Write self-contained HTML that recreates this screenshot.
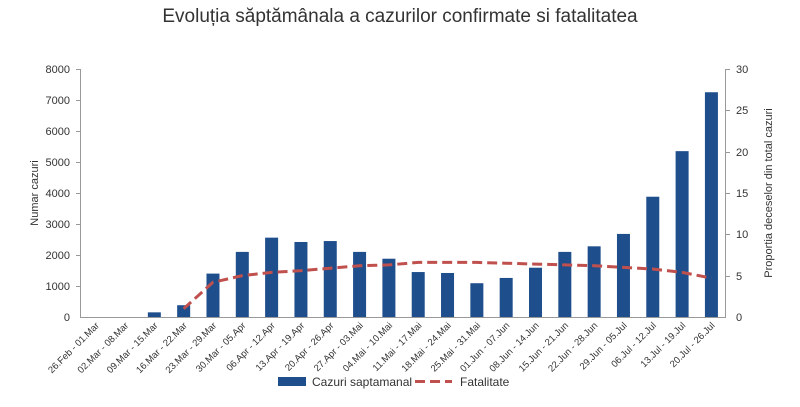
<!DOCTYPE html>
<html><head><meta charset="utf-8"><style>body{margin:0;background:#fff}svg{display:block}text{font-family:"Liberation Sans",sans-serif;fill:#333}</style></head><body>
<svg width="800" height="407" xmlns="http://www.w3.org/2000/svg">
<text x="400" y="22" font-size="19" text-anchor="middle">Evoluția săptămânala a cazurilor confirmate si fatalitatea</text>
<g font-size="11" text-anchor="end">
<text x="70" y="321">0</text><text x="70" y="290">1000</text><text x="70" y="259">2000</text><text x="70" y="228">3000</text><text x="70" y="197">4000</text><text x="70" y="166">5000</text><text x="70" y="135">6000</text><text x="70" y="104">7000</text><text x="70" y="73">8000</text>
</g>
<g font-size="11" text-anchor="start">
<text x="736" y="321">0</text><text x="736" y="280">5</text><text x="736" y="238">10</text><text x="736" y="197">15</text><text x="736" y="156">20</text><text x="736" y="114">25</text><text x="736" y="73">30</text>
</g>
<text transform="translate(38,193) rotate(-90)" font-size="11" text-anchor="middle">Numar cazuri</text>
<text transform="translate(772,193) rotate(-90)" font-size="11" text-anchor="middle">Proportia deceselor din total cazuri</text>
<g stroke="#999" stroke-width="1">
<line x1="80.5" y1="69" x2="80.5" y2="318"/><line x1="725.5" y1="69" x2="725.5" y2="318"/><line x1="80" y1="317.5" x2="726" y2="317.5"/>
<line x1="76" y1="69.5" x2="80" y2="69.5"/><line x1="76" y1="100.5" x2="80" y2="100.5"/><line x1="76" y1="131.5" x2="80" y2="131.5"/><line x1="76" y1="162.5" x2="80" y2="162.5"/><line x1="76" y1="193.5" x2="80" y2="193.5"/><line x1="76" y1="224.5" x2="80" y2="224.5"/><line x1="76" y1="255.5" x2="80" y2="255.5"/><line x1="76" y1="286.5" x2="80" y2="286.5"/>
<line x1="725" y1="69.5" x2="730" y2="69.5"/><line x1="725" y1="110.5" x2="730" y2="110.5"/><line x1="725" y1="152.5" x2="730" y2="152.5"/><line x1="725" y1="193.5" x2="730" y2="193.5"/><line x1="725" y1="234.5" x2="730" y2="234.5"/><line x1="725" y1="276.5" x2="730" y2="276.5"/>
</g>
<g id="bars" fill="#1f4e8c"></g>
<g id="labels" font-size="9.5" text-anchor="end"></g>
<polyline id="fat" fill="none" stroke="#c0504d" stroke-width="3" stroke-dasharray="10,5"/>
<rect x="278" y="377" width="28" height="9" fill="#1f4e8c"/>
<text x="312" y="386" font-size="12">Cazuri saptamanal</text>
<line x1="415" y1="381.5" x2="452" y2="381.5" stroke="#c0504d" stroke-width="3" stroke-dasharray="10,5"/>
<text x="460" y="386" font-size="12">Fatalitate</text>
<script>
var labs=["26.Feb - 01.Mar","02.Mar - 08.Mar","09.Mar - 15.Mar","16.Mar - 22.Mar","23.Mar - 29.Mar","30.Mar - 05.Apr","06.Apr - 12.Apr","13.Apr - 19.Apr","20.Apr - 26.Apr","27.Apr - 03.Mai","04.Mai - 10.Mai","11.Mai - 17.Mai","18.Mai - 24.Mai","25.Mai - 31.Mai","01.Jun - 07.Jun","08.Jun - 14.Jun","15.Jun - 21.Jun","22.Jun - 28.Jun","29.Jun - 05.Jul","06.Jul - 12.Jul","13.Jul - 19.Jul","20.Jul - 26.Jul"];
var v=[0,0,150,380,1400,2100,2560,2420,2450,2100,1880,1450,1420,1090,1260,1590,2100,2280,2680,3880,5350,7250];
var f=[null,null,null,1,4.2,5,5.4,5.6,5.9,6.2,6.3,6.6,6.6,6.6,6.5,6.4,6.3,6.2,6,5.8,5.4,4.7];
var ns="http://www.w3.org/2000/svg",b=document.getElementById("bars"),l=document.getElementById("labels"),pts=[];
for(var i=0;i<22;i++){var cx=95.7+i*29.32;var h=v[i]*0.031;
var r=document.createElementNS(ns,"rect");r.setAttribute("x",cx-6.5);r.setAttribute("y",317-h);r.setAttribute("width",13);r.setAttribute("height",h);b.appendChild(r);
var t=document.createElementNS(ns,"text");t.setAttribute("transform","translate("+(cx+4)+",326) rotate(-45)");t.textContent=labs[i];l.appendChild(t);
if(f[i]!=null)pts.push(cx+","+(317-f[i]*8.27));}
document.getElementById("fat").setAttribute("points",pts.join(" "));
</script>
</svg></body></html>
